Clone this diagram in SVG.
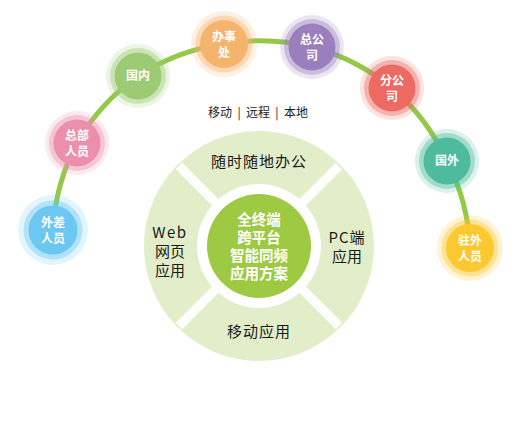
<svg xmlns="http://www.w3.org/2000/svg" width="515" height="435" viewBox="0 0 515 435">
<style>
.lbl{font-family:"Noto Sans CJK SC","Liberation Sans",sans-serif;font-weight:bold;fill:#fff;font-size:12px;text-anchor:middle}
.seg{font-family:"Noto Sans CJK SC","Liberation Sans",sans-serif;fill:#1a1a1a;font-size:15px;text-anchor:middle}
.ctr{font-family:"Noto Sans CJK SC","Liberation Sans",sans-serif;font-weight:bold;fill:#fff;font-size:14.5px;text-anchor:middle}
.top{font-family:"Noto Sans CJK SC","Liberation Sans",sans-serif;fill:#222;font-size:12px;text-anchor:middle}
.conn{fill:none;stroke:#94c847;stroke-width:5}
.h1{opacity:0.2}
.h2{opacity:0.4}
</style>
<rect width="515" height="435" fill="#fff"/>
<g id="connectors">
<path class="conn" d="M53,230 A210,210 0 0 1 77,143 A210,210 0 0 1 138,76 A210,210 0 0 1 224,44 A210,210 0 0 1 312,47 A210,210 0 0 1 392,88 A210,210 0 0 1 447,161 A210,210 0 0 1 470,248"/>
</g>
<g id="hub">
<circle cx="259" cy="246" r="115" fill="#e1eec9"/>
<circle cx="259" cy="246" r="62" fill="#fff"/>
<g stroke="#fff" stroke-width="9">
<line x1="259" y1="246" x2="179" y2="166"/>
<line x1="259" y1="246" x2="339" y2="166"/>
<line x1="259" y1="246" x2="179" y2="326"/>
<line x1="259" y1="246" x2="339" y2="326"/>
</g>
<circle cx="259" cy="246" r="52" fill="#9dc943"/>
<text class="ctr" x="259" y="225">全终端</text>
<text class="ctr" x="259" y="243">跨平台</text>
<text class="ctr" x="259" y="261">智能同频</text>
<text class="ctr" x="259" y="279">应用方案</text>
</g>
<g id="seg-top"><text class="seg" x="259" y="167" style="letter-spacing:1px">随时随地办公</text></g>
<g id="seg-left"><text class="seg" x="170" y="238" style="letter-spacing:1.5px">Web</text><text class="seg" x="170" y="257">网页</text><text class="seg" x="170" y="276">应用</text></g>
<g id="seg-right"><text class="seg" x="347" y="243" style="letter-spacing:1px">PC端</text><text class="seg" x="347" y="262">应用</text></g>
<g id="seg-bottom"><text class="seg" x="259" y="337" style="letter-spacing:1px">移动应用</text></g>
<g id="tagline"><text class="top" x="258" y="117" xml:space="preserve">移动  |  远程  |  本地</text></g>
<g id="n-waichai"><circle cx="53" cy="230" r="35" fill="#6cc8f2" class="h1"/><circle cx="53" cy="230" r="29.5" fill="#6cc8f2" class="h2"/><circle cx="53" cy="230" r="24.5" fill="#6cc8f2"/><text class="lbl" x="53" y="227">外差</text><text class="lbl" x="53" y="243">人员</text></g>
<g id="n-zongbu"><circle cx="77" cy="143" r="32" fill="#ec8fad" class="h1"/><circle cx="77" cy="143" r="28" fill="#ec8fad" class="h2"/><circle cx="77" cy="143" r="23.5" fill="#ec8fad"/><text class="lbl" x="77" y="140">总部</text><text class="lbl" x="77" y="156">人员</text></g>
<g id="n-guonei"><circle cx="138" cy="76" r="32" fill="#9ccb73" class="h1"/><circle cx="138" cy="76" r="28" fill="#9ccb73" class="h2"/><circle cx="138" cy="76" r="23.5" fill="#9ccb73"/><text class="lbl" x="138" y="80">国内</text></g>
<g id="n-banshichu"><circle cx="224" cy="44" r="33" fill="#f5b46e" class="h1"/><circle cx="224" cy="44" r="28.5" fill="#f5b46e" class="h2"/><circle cx="224" cy="44" r="24" fill="#f5b46e"/><text class="lbl" x="224" y="41">办事</text><text class="lbl" x="224" y="57">处</text></g>
<g id="n-zonggongsi"><circle cx="312" cy="47" r="32" fill="#9b7fbd" class="h1"/><circle cx="312" cy="47" r="28" fill="#9b7fbd" class="h2"/><circle cx="312" cy="47" r="23.5" fill="#9b7fbd"/><text class="lbl" x="312" y="44">总公</text><text class="lbl" x="312" y="60">司</text></g>
<g id="n-fengongsi"><circle cx="392" cy="88" r="32" fill="#ec6a62" class="h1"/><circle cx="392" cy="88" r="28" fill="#ec6a62" class="h2"/><circle cx="392" cy="88" r="23.5" fill="#ec6a62"/><text class="lbl" x="392" y="85">分公</text><text class="lbl" x="392" y="101">司</text></g>
<g id="n-guowai"><circle cx="447" cy="161" r="32" fill="#4dbb9c" class="h1"/><circle cx="447" cy="161" r="28" fill="#4dbb9c" class="h2"/><circle cx="447" cy="161" r="23.5" fill="#4dbb9c"/><text class="lbl" x="447" y="165">国外</text></g>
<g id="n-zhuwai"><circle cx="470" cy="248" r="33" fill="#fcc82f" class="h1"/><circle cx="470" cy="248" r="28.5" fill="#fcc82f" class="h2"/><circle cx="470" cy="248" r="24" fill="#fcc82f"/><text class="lbl" x="470" y="245">驻外</text><text class="lbl" x="470" y="261">人员</text></g>
</svg>
